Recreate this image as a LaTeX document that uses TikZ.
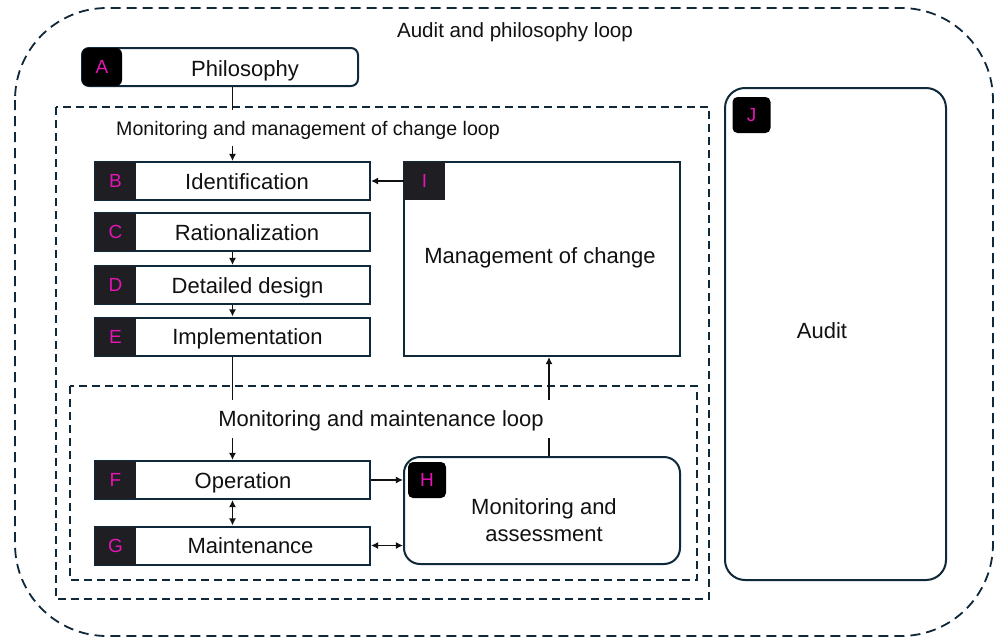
\documentclass[tikz,border=0pt]{standalone}
\usepackage{fontspec}
\setmainfont{Liberation Sans}
\usetikzlibrary{arrows.meta}
\definecolor{frame}{HTML}{10293A}
\definecolor{tabgrey}{HTML}{1F1E23}
\definecolor{tabpink}{HTML}{E514B4}
\definecolor{ink}{HTML}{111111}

\begin{document}
\begin{tikzpicture}[x=0.5pt,y=-0.5pt,
  stage/.style={draw=frame,line width=1pt,fill=white,minimum width=137.5pt,minimum height=19pt,inner sep=0pt},
  lettertab/.style={fill=tabgrey,text=tabpink,minimum width=20.5pt,minimum height=19pt,inner sep=0pt,
    text height=6.8pt,text depth=0pt,font=\fontsize{9.5}{11}\selectfont},
  roundtab/.style={lettertab,fill=black,rounded corners=2.5pt,minimum width=19pt,minimum height=18pt},
  stagetext/.style={text=ink,inner sep=0pt,text height=7.9pt,text depth=0pt,font=\fontsize{11}{13.5}\selectfont},
  looplabel/.style={text=ink,inner sep=0pt,text height=7pt,text depth=0pt,font=\fontsize{9.8}{12}\selectfont},
  loopline/.style={draw=frame,line width=0.9pt,dash pattern=on 4pt off 2.5pt},
  link/.style={line width=0.8pt,draw=ink},
  flow/.style={link,-{Latex[length=3.6pt,width=3.6pt]}},
  twoway/.style={link,{Latex[length=3.6pt,width=3.6pt]}-{Latex[length=3.6pt,width=3.6pt]}}]

\useasboundingbox (0,0) rectangle (998,643);

\draw[loopline,dash pattern=on 5pt off 3pt,rounded corners=46pt] (15,8) rectangle (993,636);
\draw[loopline] (56,107) rectangle (709,599);
\draw[loopline] (70,386) rectangle (697,580);

\node[looplabel,text height=7.4pt,font=\fontsize{10.3}{12}\selectfont] (outerloop) at (515,30) {Audit and philosophy loop};
\node[looplabel,minimum height=18pt] (mcloop) at (308,128) {Monitoring and management of change loop};
\node[looplabel,text height=7.9pt,minimum height=19pt,font=\fontsize{11}{13.5}\selectfont] (mmloop) at (381,419) {Monitoring and maintenance loop};

\node[stage,rounded corners=3.5pt,minimum width=138pt] (philo) at (220,67) {};
\node[roundtab,minimum width=20pt,minimum height=19pt,rounded corners=3pt] (philo-tab) at (102,67) {A};
\node[stagetext] (philo-txt) at (245,69) {Philosophy};

\node[stage] (ident) at (232.5,181) {};
\node[lettertab] (ident-tab) at (115.5,181) {B};
\node[stagetext] (ident-txt) at (247,181.5) {Identification};

\node[stage] (ration) at (232.5,232) {};
\node[lettertab] (ration-tab) at (115.5,232) {C};
\node[stagetext] (ration-txt) at (247,232.5) {Rationalization};

\node[stage] (design) at (232.5,285) {};
\node[lettertab] (design-tab) at (115.5,285) {D};
\node[stagetext] (design-txt) at (247.5,285.5) {Detailed design};

\node[stage] (implem) at (232.5,336.5) {};
\node[lettertab] (implem-tab) at (115.5,336.5) {E};
\node[stagetext] (implem-txt) at (247.5,337) {Implementation};

\node[stage] (oper) at (232.5,480) {};
\node[lettertab] (oper-tab) at (115.5,480) {F};
\node[stagetext] (oper-txt) at (243,480.5) {Operation};

\node[stage] (maint) at (232.5,545.5) {};
\node[lettertab] (maint-tab) at (115.5,545.5) {G};
\node[stagetext] (maint-txt) at (250.5,546) {Maintenance};

\node[stage,minimum width=138pt,minimum height=97pt] (moc) at (542,259) {};
\node[lettertab] (moc-tab) at (424.5,181) {I};
\node[stagetext] (moc-txt) at (540,256) {Management of change};

\node[stage,rounded corners=8pt,minimum width=138pt,minimum height=53.5pt] (monit) at (542,510.5) {};
\node[roundtab] (monit-tab) at (427,480) {H};
\node[stagetext,text height=,text depth=,align=center] (monit-txt) at (544,520) {Monitoring and\\assessment};

\node[stage,rounded corners=10pt,minimum width=110.5pt,minimum height=246pt] (audit) at (835.5,334) {};
\node[roundtab] (audit-tab) at (751.5,115) {J};
\node[stagetext] (audit-txt) at (822,331) {Audit};

\coordinate (riser) at (549,0);

\draw[link] (philo.south -| ident.north) -- (mcloop.north -| ident.north);
\draw[flow] (mcloop.south -| ident.north) -- (ident.north);
\draw[flow] (ration.south) -- (design.north);
\draw[flow] (design.south) -- (implem.north);
\draw[link] (implem.south) -- (mmloop.north -| implem.south);
\draw[flow] (mmloop.south -| oper.north) -- (oper.north);
\draw[twoway] (oper.south) -- (maint.north);
\draw[flow] (oper.east) -- (oper.east -| monit.west);
\draw[twoway] (maint.east) -- (maint.east -| monit.west);
\draw[link] (monit.north -| riser) -- (mmloop.south -| riser);
\draw[flow] (mmloop.north -| riser) -- (moc.south -| riser);
\draw[flow] (moc-tab.west) -- (ident.east);
\end{tikzpicture}
\end{document}
